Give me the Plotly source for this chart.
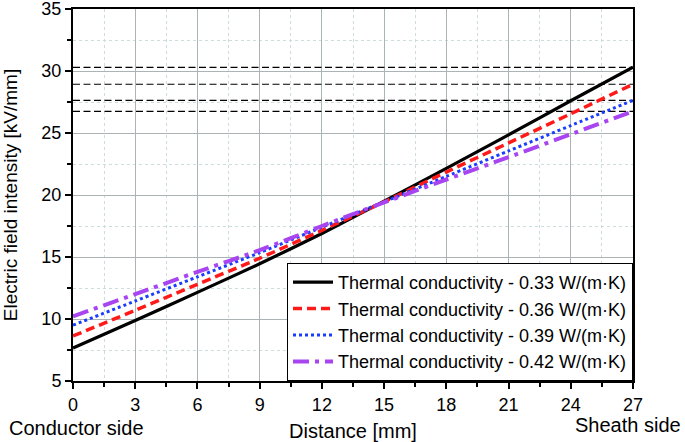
import plotly.graph_objects as go

# Data
distance = [0, 3, 6, 9, 12, 15, 18, 21, 24, 27]
k033 = [7.66, 9.88, 12.15, 14.45, 16.9, 19.5, 22.15, 24.85, 27.6, 30.3]
k036 = [8.63, 10.7, 12.8, 14.9, 17.15, 19.45, 21.85, 24.2, 26.55, 28.93]
k039 = [9.5, 11.45, 13.4, 15.35, 17.4, 19.45, 21.5, 23.55, 25.6, 27.63]
k042 = [10.22, 12.0, 13.8, 15.55, 17.5, 19.4, 21.25, 23.05, 24.9, 26.75]
names = ["Thermal conductivity - 0.33 W/(m·K)",
         "Thermal conductivity - 0.36 W/(m·K)",
         "Thermal conductivity - 0.39 W/(m·K)",
         "Thermal conductivity - 0.42 W/(m·K)"]
x_ticks = [0, 3, 6, 9, 12, 15, 18, 21, 24, 27]
y_ticks = [5, 10, 15, 20, 25, 30, 35]

series = [k033, k036, k039, k042]
colors = ["#000000", "#ff1a1a", "#1a3cff", "#a845f0"]
dashes = ["solid", "9px,5px", "3px,3px", "16px,6px,4px,6px"]
widths = [3.2, 3.5, 3, 4]

FONT = "Arial, Liberation Sans, sans-serif"

fig = go.Figure()

# horizontal reference lines at end values
for s in series:
    fig.add_trace(go.Scatter(
        x=[distance[0], distance[-1]], y=[s[-1], s[-1]], mode="lines",
        line=dict(color="#000000", width=1.2, dash="7px,3.5px"),
        showlegend=False, hoverinfo="skip"))

for s, n, c, d, w in zip(series, names, colors, dashes, widths):
    fig.add_trace(go.Scatter(
        x=distance, y=s, mode="lines", name=n,
        line=dict(color=c, width=w, dash=d, shape="spline", smoothing=0.6)))

fig.update_layout(
    width=685, height=442,
    margin=dict(l=73, r=52, t=9, b=61),
    paper_bgcolor="white", plot_bgcolor="white",
    font=dict(family=FONT, size=18, color="#000000"),
    legend=dict(x=1, xanchor="right", y=0, yanchor="bottom",
                bgcolor="white", bordercolor="#000000", borderwidth=1,
                font=dict(size=18, family=FONT), tracegroupgap=0,
                itemwidth=40),
    xaxis=dict(
        range=[0, 27], tickvals=x_ticks, ticktext=[str(v) for v in x_ticks],
        showline=True, linecolor="#000000", linewidth=2, mirror=True,
        ticks="outside", ticklen=6, tickwidth=1.5, tickcolor="#000000",
        showgrid=True, gridcolor="#aab4b4", gridwidth=1, zeroline=False,
        tickfont=dict(size=18), ticklabeloverflow="allow", automargin=False,
        minor=dict(dtick=1.5, tick0=0, ticks="outside", ticklen=4, tickwidth=1.5,
                   tickcolor="#000000", showgrid=True, gridcolor="#cddcdc",
                   griddash="dot", gridwidth=1),
        title=dict(text="Distance [mm]", font=dict(size=20), standoff=13),
    ),
    yaxis=dict(
        range=[5, 35], tickvals=y_ticks, ticktext=[str(v) for v in y_ticks],
        showline=True, linecolor="#000000", linewidth=2, mirror=True,
        ticks="outside", ticklen=6, tickwidth=1.5, tickcolor="#000000",
        showgrid=True, gridcolor="#aab4b4", gridwidth=1, zeroline=False,
        tickfont=dict(size=18), ticklabeloverflow="allow", automargin=False,
        minor=dict(dtick=2.5, tick0=5, ticks="outside", ticklen=4, tickwidth=1.5,
                   tickcolor="#000000", showgrid=True, gridcolor="#cddcdc",
                   griddash="dot", gridwidth=1),
        title=dict(text="Electric field intensity [kV/mm]", font=dict(size=19), standoff=19),
    ),
    annotations=[
        dict(text="Conductor side", xref="paper", yref="paper",
             x=-0.1179, y=-0.126, xanchor="left", yanchor="middle",
             showarrow=False, font=dict(size=20, family=FONT)),
        dict(text="Sheath side", xref="paper", yref="paper",
             x=1.0893, y=-0.118, xanchor="right", yanchor="middle",
             showarrow=False, font=dict(size=20, family=FONT)),
    ],
)

fig.write_html("out.html", config={"displayModeBar": False},
               post_script="document.body.style.margin='0px';document.body.style.overflow='hidden';")
